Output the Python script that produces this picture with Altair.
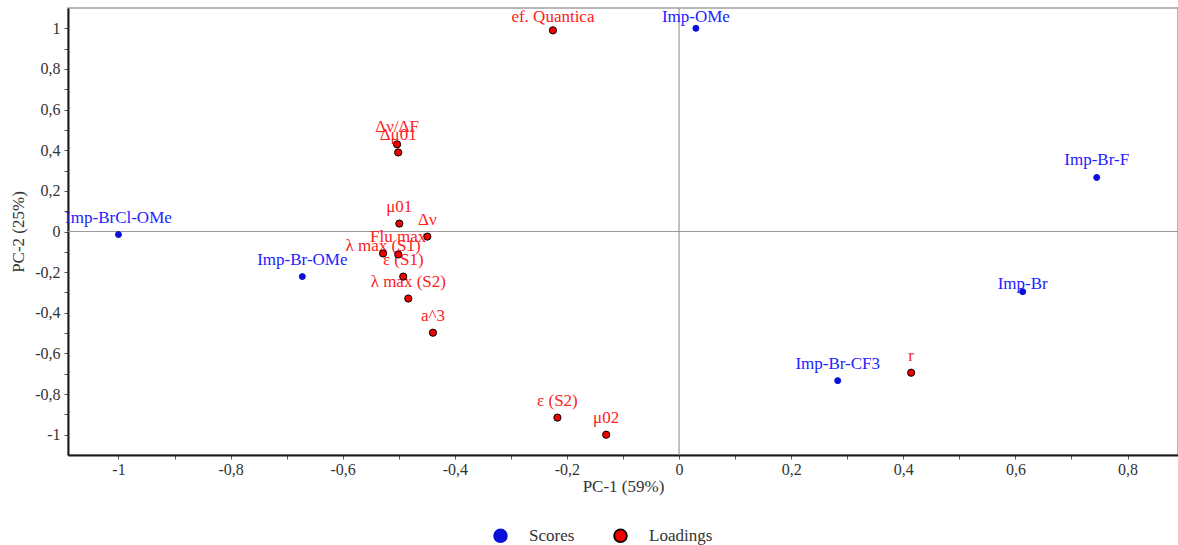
import altair as alt
import pandas as pd

# ---- data ----
score_names = ["Imp-OMe", "Imp-Br-F", "Imp-Br", "Imp-Br-CF3", "Imp-BrCl-OMe", "Imp-Br-OMe"]
score_pc1 = [0.030, 0.745, 0.613, 0.283, -1.000, -0.672]
score_pc2 = [1.000, 0.266, -0.296, -0.734, -0.015, -0.222]

loading_names = ["ef. Quantica", "Δν/ΔF", "Δμ01", "μ01", "Δν", "λ max (S1)", "Flu max",
                 "ε (S1)", "λ max (S2)", "a^3", "ε (S2)", "μ02", "r"]
loading_pc1 = [-0.225, -0.503, -0.501, -0.499, -0.449, -0.528, -0.501,
               -0.492, -0.483, -0.439, -0.217, -0.130, 0.414]
loading_pc2 = [0.990, 0.429, 0.389, 0.039, -0.025, -0.108, -0.113,
               -0.222, -0.330, -0.498, -0.916, -1.000, -0.695]

x_ticks = [-1.0, -0.9, -0.8, -0.7, -0.6, -0.5, -0.4, -0.3, -0.2, -0.1,
           0.0, 0.1, 0.2, 0.3, 0.4, 0.5, 0.6, 0.7, 0.8]
y_ticks = [-1.0, -0.9, -0.8, -0.7, -0.6, -0.5, -0.4, -0.3, -0.2, -0.1,
           0.0, 0.1, 0.2, 0.3, 0.4, 0.5, 0.6, 0.7, 0.8, 0.9, 1.0]

# label placement (pixels above the point); style only
DEFAULT_DY = -17
LABEL_DY = {"Imp-Br": -8, "Imp-OMe": -11, "ef. Quantica": -13, "λ max (S1)": -7}

FONT = "Liberation Serif"
BLUE_PT = "#0a10d8"
RED_PT = "#f00000"
TXT_COLOR = {"Scores": "#2222ff", "Loadings": "#ff2020"}
TYPES = ["Scores", "Loadings"]

df = pd.concat([
    pd.DataFrame({"name": score_names, "pc1": score_pc1, "pc2": score_pc2, "type": "Scores"}),
    pd.DataFrame({"name": loading_names, "pc1": loading_pc1, "pc2": loading_pc2, "type": "Loadings"}),
], ignore_index=True)

xscale = alt.Scale(domain=[-1.09, 0.89], nice=False, zero=False)
yscale = alt.Scale(domain=[-1.1, 1.1], nice=False, zero=False)

label_expr = "round(datum.value*10) % 2 == 0 ? replace(toString(datum.value), '.', ',') : ''"

x_axis = alt.Axis(values=x_ticks, labelExpr=label_expr, title="PC-1 (59%)", grid=False,
                  titlePadding=1, labelPadding=2)
y_axis = alt.Axis(values=y_ticks, labelExpr=label_expr, title="PC-2 (25%)", grid=False,
                  titlePadding=7, labelPadding=4)

X = alt.X("pc1:Q", scale=xscale, axis=x_axis)
Y = alt.Y("pc2:Q", scale=yscale, axis=y_axis)

base = alt.Chart(df)

zero_df = pd.DataFrame({"z": [0.0]})
vline = alt.Chart(zero_df).mark_rule(color="#9a9a9a", strokeWidth=1.2).encode(
    x=alt.X("z:Q", scale=xscale, axis=x_axis))
hline = alt.Chart(zero_df).mark_rule(color="#9a9a9a", strokeWidth=1.2).encode(
    y=alt.Y("z:Q", scale=yscale, axis=y_axis))

text_layers = []
for typ, names in (("Scores", score_names), ("Loadings", loading_names)):
    groups = {}
    for n in names:
        groups.setdefault(LABEL_DY.get(n, DEFAULT_DY), []).append(n)
    for dy, members in groups.items():
        t = base.transform_filter(alt.FieldOneOfPredicate(field="name", oneOf=members)).mark_text(
            font=FONT, fontSize=17, baseline="middle", align="center", dy=dy, color=TXT_COLOR[typ]
        ).encode(x=X, y=Y, text="name:N")
        text_layers.append(t)

legend = alt.Legend(orient="none", direction="horizontal", legendX=424, legendY=519, title=None)
fill_enc = alt.Fill("type:N", scale=alt.Scale(domain=TYPES, range=[BLUE_PT, RED_PT]),
                    title=None, legend=legend)
stroke_enc = alt.Stroke("type:N", scale=alt.Scale(domain=TYPES, range=[BLUE_PT, "#000000"]),
                        title=None, legend=legend)

score_pts = base.transform_filter(alt.datum.type == "Scores").mark_point(
    shape="circle", filled=True, strokeWidth=1, opacity=1, size=36
).encode(x=X, y=Y, fill=fill_enc, stroke=stroke_enc)

loading_pts = base.transform_filter(alt.datum.type == "Loadings").mark_point(
    shape="circle", filled=True, strokeWidth=1, opacity=1, size=52
).encode(x=X, y=Y, fill=fill_enc, stroke=stroke_enc)

chart = alt.layer(vline, hline, *text_layers, score_pts, loading_pts).properties(
    width=1110, height=447,
    autosize=alt.AutoSizeParams(type="none"),
    padding={"left": 68, "top": 8, "right": 0, "bottom": 90},
    background="white",
).configure_view(
    stroke="#a0a0a0", strokeWidth=1.5
).configure_axis(
    domainColor="#1a1a1a", domainWidth=2, tickColor="#555555", tickSize=4, tickWidth=1,
    labelFont=FONT, labelFontSize=16, labelColor="#333333",
    titleFont=FONT, titleFontSize=17, titleFontWeight="normal", titleColor="#333333",
).configure_legend(
    labelFont=FONT, labelFontSize=17, labelColor="#333333", symbolType="circle",
    symbolSize=160, symbolStrokeWidth=1.8, labelOffset=20, columnPadding=35, padding=0,
)

chart.save("out.html", embed_options={"renderer": "svg", "actions": False})
